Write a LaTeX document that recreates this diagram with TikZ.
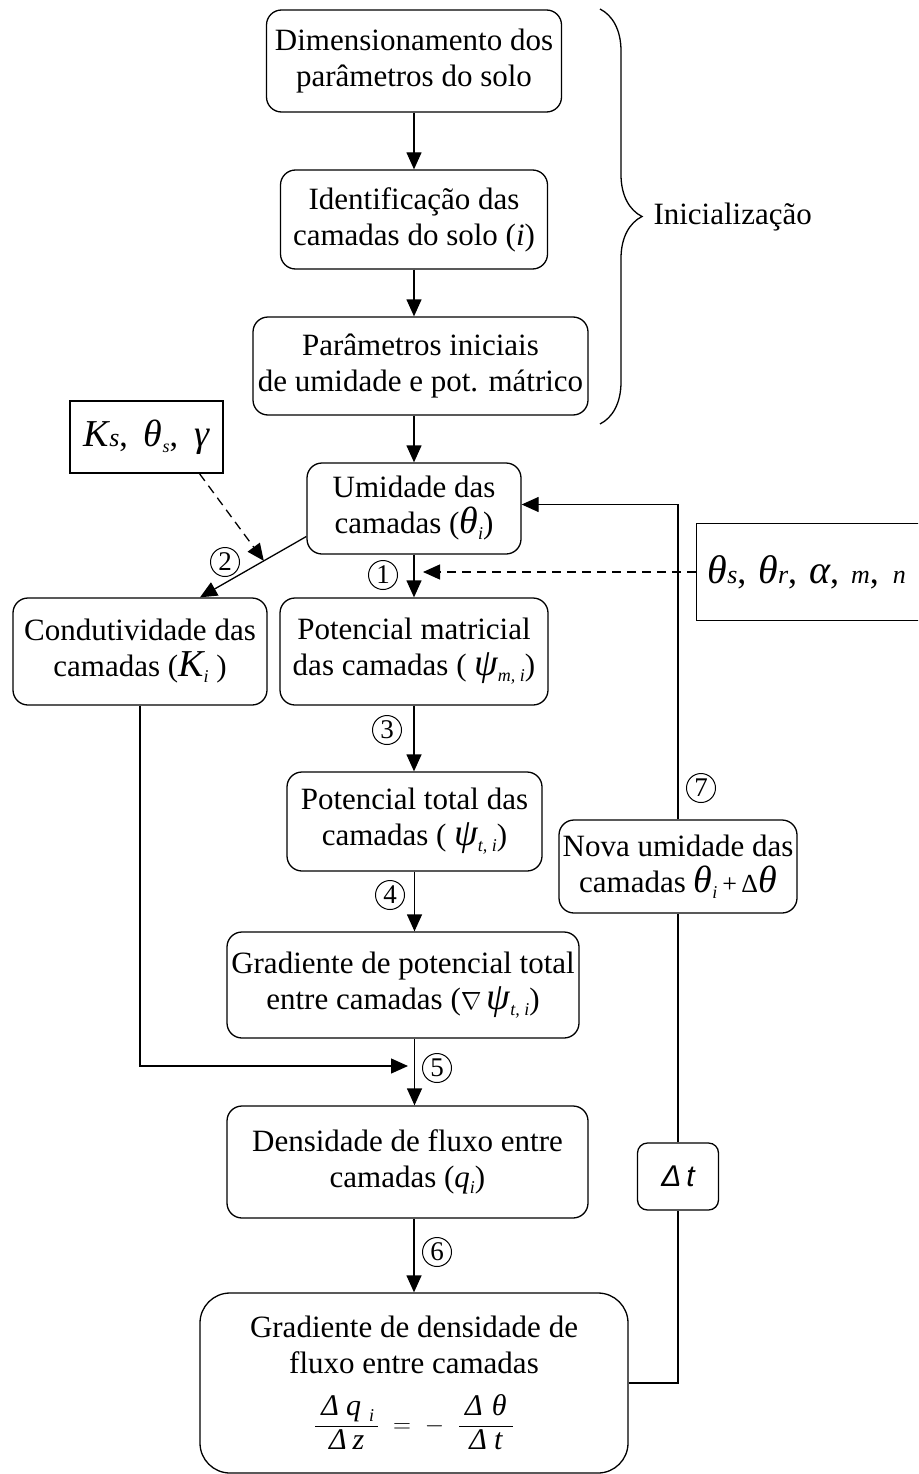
\documentclass[tikz,border=0pt]{standalone}
\usepackage{fontspec}
\usepackage{amsmath}
\setmainfont{Liberation Serif}
\newfontfamily\semserif{Liberation Sans}
\usetikzlibrary{arrows.meta,decorations.pathreplacing,calc}

\newcommand{\gr}[1]{{\fontsize{38}{36}\selectfont\itshape #1}}
\newcommand{\ind}[1]{\raisebox{-6pt}{\fontsize{18}{18}\selectfont\itshape #1}}
\newcommand{\pq}[1]{{\fontsize{26}{26}\selectfont\itshape #1}}

\tikzset{
  caixa/.style={draw, rounded corners=15pt, align=center, inner sep=0pt, line width=1.3pt, font=\fontsize{31}{36}\selectfont},
  seta/.style={-{Triangle[length=17pt,width=15pt]}, line width=1.3pt},
  tracejada/.style={seta, dash pattern=on 9pt off 6pt},
  passo/.style={circle, draw, line width=1pt, minimum size=29pt, inner sep=0pt, font=\fontsize{27}{27}\selectfont},
}

\begin{document}
\begin{tikzpicture}[x=1pt,y=-1pt]
\useasboundingbox (0,0) rectangle (918,1474);
\clip (0,0) rectangle (918,1474);

% inicializacao
\node[caixa, minimum width=295pt, minimum height=102pt] (dim) at (414,61) {Dimensionamento dos\\parâmetros do solo};
\node[caixa, minimum width=267pt, minimum height=99pt] (ident) at (414,219.5) {Identificação das\\camadas do solo (\textit{i})};
\node[caixa, minimum width=335pt, minimum height=98pt] (param) at (420.5,366) {Parâmetros iniciais\\de umidade e pot. mátrico};
\draw[line width=1.3pt, decorate, decoration={brace, amplitude=42pt}] (600,9) -- (600,424);
\node[anchor=west, font=\fontsize{31}{36}\selectfont] (ini) at (650,217) {Inicialização};

% ciclo
\node[caixa, minimum width=214pt, minimum height=91pt] (umid) at (414,508.5) {Umidade das\\camadas (\gr{θ}\ind{i})};
\node[caixa, minimum width=254pt, minimum height=107pt] (cond) at (140,651.5) {Condutividade das\\camadas (\gr{K}\ind{i} )};
\node[caixa, minimum width=268pt, minimum height=107pt] (potm) at (414,651.5) {Potencial matricial\\das camadas ( \gr{ψ}\ind{m, i})};
\node[caixa, minimum width=255pt, minimum height=99pt] (pott) at (414.5,821.5) {Potencial total das\\camadas ( \gr{ψ}\ind{t, i})};
\node[caixa, minimum width=352pt, minimum height=106pt] (grad) at (403,985) {Gradiente de potencial total\\entre camadas (\ensuremath{\nabla}\,\gr{ψ}\ind{t, i})};
\node[caixa, minimum width=361pt, minimum height=112pt] (dens) at (407.5,1162) {Densidade de fluxo entre\\camadas (\textit{q}\ind{i})};
\node[caixa, rounded corners=30pt, minimum width=428pt, minimum height=180pt] (gradq) at (414,1383) {Gradiente de densidade de\\fluxo entre camadas\\[20pt]
  {\fontsize{30}{34}\selectfont\ensuremath{\dfrac{\mbox{\itshape\hspace{6pt}Δ\hspace{7pt}q\hspace{8pt}\ind{i}\hspace{4pt}}}{\mbox{\itshape Δ\hspace{6pt}z}}\;=\;-\;\;\dfrac{\mbox{\itshape\hspace{6pt}Δ\hspace{9pt}θ\hspace{6pt}}}{\mbox{\itshape Δ\hspace{7pt}t}}}}};
\node[caixa, minimum width=238pt, minimum height=93pt] (nova) at (678,866.5) {Nova umidade das\\camadas \gr{θ}\ind{i}\,{\fontsize{26}{26}\selectfont+\,Δ}\gr{θ}};
\node[caixa, rounded corners=10pt, minimum width=81pt, minimum height=67pt, font=\fontsize{30}{30}\semserif\itshape] (dt) at (678,1176.5) {Δ\,t};

% parametros de entrada
\node[draw, line width=1.3pt, minimum width=153pt, minimum height=72pt, inner sep=0pt, font=\fontsize{34}{36}\selectfont] (ks) at (146.5,437) {\gr{K}\pq{s},\hspace{16pt}\gr{θ}\ind{s},\hspace{16pt}\gr{γ}};
\node[draw, line width=1.3pt, anchor=west, text width=238pt, align=left, inner xsep=11pt, minimum height=97pt, font=\fontsize{36}{36}\selectfont] (solo) at (696,572) {{\fontsize{40}{36}\selectfont\itshape θ}\pq{s},\hspace{12pt}{\fontsize{40}{36}\selectfont\itshape θ}\pq{r},\hspace{12pt}{\fontsize{40}{36}\selectfont\itshape α},\hspace{12pt}\pq{m},\hspace{14pt}\pq{n}};

% setas
\draw[seta] (dim) -- (ident);
\draw[seta] (ident.south) -- (ident.south |- param.north);
\draw[seta] (param.south -| umid.north) -- (umid.north);
\draw[seta] (umid) -- (potm);
\draw[seta] (potm) -- (potm.south |- pott.north);
\draw[seta] (pott.south) -- (pott.south |- grad.north);
\draw[seta] (grad.south -| pott.south) -- (pott.south |- dens.north);
\draw[seta] (dens.south -| gradq.north) -- (gradq.north);

\coordinate (u2) at ([yshift=-28pt]umid.west);
\coordinate (c2) at ([xshift=60pt]cond.north);
\coordinate (pk) at ($(u2)!0.4!(c2)$);
\draw[seta] (u2) -- (c2);
\draw[tracejada] ([xshift=53pt]ks.south) -- (pk);
\draw[tracejada] (solo.west) -- ([xshift=9pt]solo.west -| umid.south);

\coordinate (junta) at (414,1066);
\draw[seta] (cond.south) |- ([xshift=-6pt]junta);

% retorno
\draw[line width=1.3pt] (gradq.east) -| (dt.south);
\draw[line width=1.3pt] (dt.north) -- (nova.south);
\draw[seta] (nova.north) |- ([yshift=4pt]umid.east);

% passos
\node[passo] (p1) at (383,575) {1};
\node[passo] (p2) at (225,562) {2};
\node[passo] (p3) at (387,730) {3};
\node[passo] (p4) at (390,895) {4};
\node[passo] (p5) at (437,1068) {5};
\node[passo] (p6) at (437,1252) {6};
\node[passo] (p7) at (701,788) {7};
\end{tikzpicture}
\end{document}
